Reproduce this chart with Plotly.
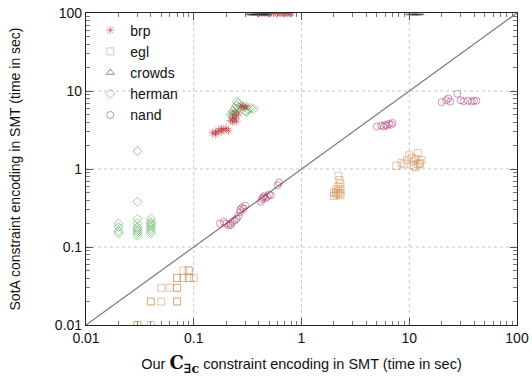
import plotly.graph_objects as go

# ---- data (seconds) ----
brp_x = [0.39, 0.41, 0.43, 0.45, 0.47, 0.49, 0.50, 0.52, 0.55, 0.58, 0.60, 0.63, 0.65, 0.68, 0.70, 0.73, 0.75, 0.78, 0.80,
         0.15, 0.16, 0.17, 0.18, 0.19, 0.20, 0.21, 0.18, 0.16,
         0.22, 0.23, 0.23, 0.24, 0.25, 0.24, 0.26, 0.27, 0.28, 0.29, 0.30, 0.31, 0.23, 0.25]
brp_y = [100, 100, 100, 100, 100, 100, 100, 100, 100, 100, 100, 100, 100, 100, 100, 100, 100, 100, 100,
         2.9, 3.0, 3.1, 3.0, 3.2, 3.3, 3.1, 3.3, 2.8,
         4.2, 4.5, 5.0, 4.4, 4.8, 5.4, 5.2, 6.2, 6.5, 6.3, 6.0, 6.4, 4.0, 4.1]

egl_x = [0.03, 0.04, 0.04, 0.05, 0.07, 0.05, 0.06, 0.07, 0.07, 0.08, 0.09, 0.10, 0.08, 0.09,
         0.03, 0.04, 0.07, 0.07, 0.09, 0.09, 0.07,
         2.0, 2.1, 2.2, 2.3, 2.1, 2.2, 2.3, 2.2, 2.3, 2.25, 2.2, 2.0, 2.1, 2.3,
         7.6, 8.5, 9.5, 10.5, 11.0, 11.5, 12.0, 12.5, 13.0, 11.0, 12.0, 10.0, 11.5, 12.5, 9.0]
egl_y = [0.01, 0.01, 0.02, 0.02, 0.02, 0.03, 0.03, 0.03, 0.04, 0.04, 0.04, 0.04, 0.05, 0.05,
         0.01, 0.02, 0.02, 0.04, 0.04, 0.05, 0.03,
         0.45, 0.47, 0.48, 0.46, 0.50, 0.52, 0.55, 0.60, 0.65, 0.72, 0.82, 0.50, 0.55, 0.49,
         1.1, 1.2, 1.3, 1.4, 1.1, 1.05, 1.15, 1.2, 1.3, 1.25, 1.6, 1.5, 1.35, 1.15, 1.15]

crowds_x = [0.33, 0.34, 0.35, 0.36, 0.37, 0.38, 0.40, 0.42, 0.44, 0.45, 0.47, 0.48,
            10.1, 10.5, 11.0, 11.4, 11.8, 12.2, 12.6]
crowds_y = [100, 100, 100, 100, 100, 100, 100, 100, 100, 100, 100, 100,
            100, 100, 100, 100, 100, 100, 100]

herman_x = [0.02, 0.02, 0.02, 0.02,
            0.03, 0.03, 0.03, 0.03, 0.03, 0.03, 0.03, 0.03, 0.03,
            0.04, 0.04, 0.04, 0.04, 0.04, 0.04, 0.04, 0.04,
            0.22, 0.23, 0.24, 0.25, 0.25, 0.26, 0.24, 0.26, 0.23, 0.30, 0.32, 0.34, 0.36, 0.31]
herman_y = [0.15, 0.16, 0.18, 0.20,
            0.14, 0.15, 0.16, 0.17, 0.18, 0.20, 0.23, 0.38, 1.7,
            0.15, 0.16, 0.17, 0.18, 0.19, 0.20, 0.21, 0.23,
            5.0, 5.5, 6.0, 6.5, 7.3, 7.0, 5.2, 6.2, 4.9, 5.5, 5.8, 6.0, 5.9, 5.4]

nand_x = [0.175, 0.19, 0.20, 0.21, 0.22, 0.23, 0.24, 0.22, 0.25, 0.26, 0.27, 0.28, 0.29, 0.30, 0.27,
          0.42, 0.43, 0.44, 0.45, 0.46, 0.48, 0.50, 0.52, 0.60, 0.62,
          5.0, 5.5, 6.0, 6.5, 7.0, 5.8, 6.2, 6.8,
          20, 22, 23, 24, 28, 30, 32, 35, 38, 40, 42]
nand_y = [0.20, 0.21, 0.20, 0.19, 0.20, 0.21, 0.22, 0.19, 0.23, 0.25, 0.30, 0.32, 0.31, 0.34, 0.28,
          0.38, 0.41, 0.43, 0.45, 0.42, 0.44, 0.47, 0.46, 0.62, 0.67,
          3.5, 3.6, 3.7, 3.8, 3.9, 3.5, 3.6, 3.7,
          7.2, 7.6, 8.0, 7.3, 9.2, 7.6, 7.4, 7.5, 7.3, 7.5, 7.5]

diag = [0.01, 100]
tick_vals = [0.01, 0.1, 1, 10, 100]
tick_text = ["0.01", "0.1", "1", "10", "100"]
minor_vals = [m * 10.0 ** e for e in range(-2, 2) for m in range(2, 10)]

series = [
    ("brp", brp_x, brp_y, "asterisk-open", "#c0303a"),
    ("egl", egl_x, egl_y, "square-open", "#d08f55"),
    ("crowds", crowds_x, crowds_y, "triangle-up-open", "#1b2750"),
    ("herman", herman_x, herman_y, "diamond-open", "#39a039"),
    ("nand", nand_x, nand_y, "circle-open", "#a8306e"),
]

fig = go.Figure()
fig.add_trace(go.Scatter(x=diag, y=diag, mode="lines", showlegend=False,
                         line=dict(color="#7a7a7a", width=1.2), hoverinfo="skip"))
for name, xs, ys, sym, col in series:
    fig.add_trace(go.Scatter(
        x=xs, y=ys, mode="markers", name=name,
        marker=dict(symbol=sym, size=7, color=col, opacity=0.5,
                    line=dict(width=1, color=col)),
    ))

# dotted grid at the inner major ticks
grid_style = dict(color="#c4c4c4", width=1, dash="dot")
for tv in tick_vals[1:-1]:
    fig.add_shape(type="line", xref="x", yref="paper", x0=tv, x1=tv, y0=0, y1=1,
                  line=grid_style, layer="below")
    fig.add_shape(type="line", xref="paper", yref="y", x0=0, x1=1, y0=tv, y1=tv,
                  line=grid_style, layer="below")

font_family = "Liberation Sans, Arial, sans-serif"
axis_common = dict(
    type="log", range=[-2, 2], tickmode="array", tickvals=tick_vals, ticktext=tick_text,
    showline=True, linecolor="#222", linewidth=1.2, mirror="allticks",
    ticks="inside", ticklen=7, tickcolor="#555", tickwidth=1,
    showgrid=False, zeroline=False, automargin=False,
    tickfont=dict(size=14, color="#111", family=font_family),
    minor=dict(tickmode="array", tickvals=minor_vals, ticks="inside", ticklen=4,
               tickcolor="#777", tickwidth=1, showgrid=False),
)

fig.update_layout(
    template="none",
    width=532, height=376,
    margin=dict(l=86, r=15, t=13, b=51),
    paper_bgcolor="white", plot_bgcolor="white",
    font=dict(family=font_family, size=14, color="#111"),
    xaxis=dict(**axis_common,
               title=dict(text="Our <span style='font-family:DejaVu Serif;font-size:18px;font-weight:bold'>C<sub>∃c</sub></span> constraint encoding in SMT (time in sec)",
                          font=dict(size=14.5), standoff=14)),
    yaxis=dict(**axis_common,
               title=dict(text="SotA constraint encoding in SMT (time in sec)",
                          font=dict(size=14), standoff=30)),
    legend=dict(x=0.01, y=0.995, xanchor="left", yanchor="top",
                bgcolor="rgba(0,0,0,0)", font=dict(size=14),
                tracegroupgap=0, itemwidth=30),
    showlegend=True,
)

fig.write_html("out.html")
